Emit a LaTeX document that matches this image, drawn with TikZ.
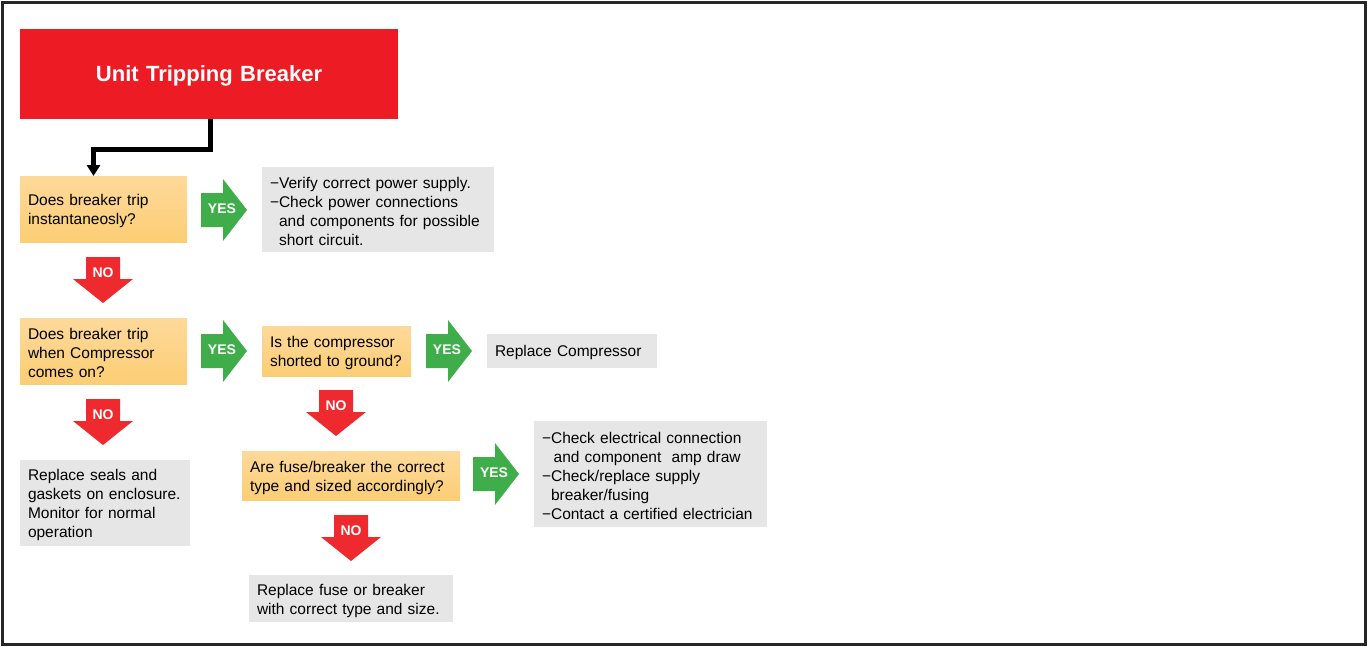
\documentclass[tikz,border=0pt]{standalone}
\usepackage{fontspec}
\setmainfont{Liberation Sans}
\usepackage{xcolor}
\usetikzlibrary{arrows.meta,calc}
\definecolor{tbred}{HTML}{ED1C24}
\definecolor{tbnored}{HTML}{EE2A2F}
\definecolor{tbgreen}{HTML}{3FAE4A}
\definecolor{tbgray}{HTML}{E6E6E6}
\definecolor{tbqtop}{HTML}{FDD99A}
\definecolor{tbqbot}{HTML}{FCCE74}
\definecolor{tbframe}{HTML}{262626}

\begin{document}
\begin{tikzpicture}[x=1pt, y=-1pt,
  font=\fontsize{15.5}{19}\selectfont,
  box/.style={anchor=north west, inner xsep=8pt, inner ysep=0pt, outer sep=0pt, align=left,
              execute at end node={\vspace{-4pt}}},
  ask/.style={box, top color=tbqtop, bottom color=tbqbot},
  todo/.style={box, fill=tbgray},
  head/.style={box, fill=tbred, text=white, align=center,
               font=\fontsize{22}{26}\selectfont\bfseries},
  tag/.style={text=white, inner sep=0pt, font=\fontsize{14}{16}\selectfont\bfseries},
  link/.style={line width=5pt, -{Triangle[width=13pt,length=11pt]}}
]
\newcommand{\yesmark}[3]{% name, left x, middle y
  \fill[tbgreen] (#2,{#3-17}) -- ++(22,0) -- ++(0,-14) -- ({#2+46},#3)
    -- ({#2+22},{#3+31}) -- ++(0,-14) -- (#2,{#3+17}) -- cycle;
  \node[tag] (#1) at ({#2+21},{#3-1}) {YES};}
\newcommand{\nomark}[3]{% name, middle x, top y
  \fill[tbnored] ({#2-17},#3) -- ++(34,0) -- ++(0,22) -- ++(13,0) -- (#2,{#3+46})
    -- ({#2-30},{#3+22}) -- ++(13,0) -- cycle;
  \node[tag] (#1) at (#2,{#3+16}) {NO};}

\useasboundingbox (0,0) rectangle (1367,646);
\draw[tbframe, line width=3pt] (2,2) rectangle (1365,644);

% start
\node[head, minimum width=378pt, minimum height=90pt, text width=362pt] (top) at (20,29) {Unit Tripping Breaker};

% questions
\node[ask, minimum width=167pt, minimum height=66pt, text width=151pt] (q1) at (20,176) {Does breaker trip\\instantaneosly?};
\node[ask, minimum width=167pt, minimum height=66pt, text width=151pt] (q2) at (20,318) {Does breaker trip\\when Compressor\\comes on?};
\node[ask, minimum width=149pt, minimum height=50pt, text width=133pt] (q3) at (262,326) {Is the compressor\\shorted to ground?};
\node[ask, minimum width=218pt, minimum height=49pt, text width=202pt] (q4) at (242,451) {Are fuse/breaker the correct\\type and sized accordingly?};

% actions
\node[todo, minimum width=232pt, minimum height=85pt, text width=216pt] (a1) at (262,167)
  {−Verify correct power supply.\\−Check power connections\\\phantom{−}and components for possible\\\phantom{−}short circuit.};
\node[todo, minimum width=170pt, minimum height=86pt, text width=154pt] (a2) at (20,460)
  {Replace seals and\\gaskets on enclosure.\\Monitor for normal\\operation};
\node[todo, minimum width=170pt, minimum height=34pt, text width=154pt] (a3) at (487,334) {Replace Compressor};
\node[todo, minimum width=233pt, minimum height=106pt, text width=217pt] (a4) at (534,421)
  {−Check electrical connection\\\phantom{−}\,and component~ amp draw\\−Check/replace supply\\\phantom{−}breaker/fusing\\−Contact a certified electrician};
\node[todo, minimum width=204pt, minimum height=47pt, text width=188pt] (a5) at (249,575)
  {Replace fuse or breaker\\with correct type and size.};

\draw[link] ([xshift=1pt]top.south) -- ++(0,30) -| ([xshift=-10pt]q1.north);

% yes / no marks
\yesmark{y1}{201}{210}
\yesmark{y2}{201}{351}
\yesmark{y3}{426}{351}
\yesmark{y4}{473}{474}
\nomark{n1}{103}{257}
\nomark{n2}{103}{399}
\nomark{n3}{336}{390}
\nomark{n4}{351}{515}
\end{tikzpicture}
\end{document}
